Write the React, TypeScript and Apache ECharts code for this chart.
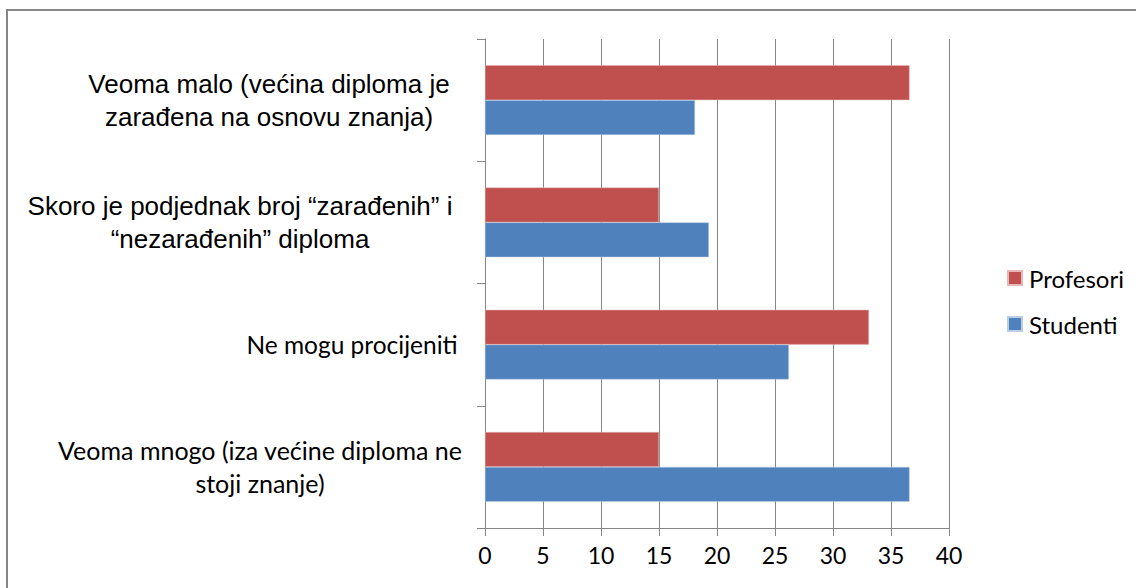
import React, { useEffect, useRef } from "react";
import * as echarts from "echarts";

const categories = [
  "Veoma malo (većina diploma je\nzarađena na osnovu znanja)",
  "Skoro je podjednak broj “zarađenih” i\n“nezarađenih” diploma",
  "Ne mogu procijeniti",
  "Veoma mnogo (iza većine diploma ne\nstoji znanje)",
];
const studenti = [18.1, 19.3, 26.2, 36.6];
const profesori = [36.6, 15.0, 33.1, 15.0];
const xTicks = { min: 0, max: 40, interval: 5 };

const labelCenters = [269, 240, 352, 260];
const labelFonts = ["Liberation Sans", "Liberation Sans", "Lato", "Lato"];
const labelSizes = [26, 26, 24.5, 25];

export default function App() {
  const ref = useRef<HTMLDivElement>(null);
  useEffect(() => {
    if (!ref.current) return;
    const chart = echarts.init(ref.current, null, { renderer: "svg" });
    const gridLeft = 485;
    const labelRight = 470;
    const rich: any = {};
    categories.forEach((_, i) => {
      rich["r" + i] = {
        width: 2 * (labelRight - labelCenters[i]),
        align: "center",
        fontFamily: labelFonts[i],
        fontSize: labelSizes[i],
        lineHeight: 33,
        color: "#000",
      };
    });
    chart.setOption({
      animation: false,
      backgroundColor: "#fff",
      graphic: [
        {
          type: "rect",
          shape: { x: 7, y: 10, width: 1300, height: 800 },
          style: { fill: "none", stroke: "#868686", lineWidth: 2 },
          silent: true,
          z: -1,
        },
      ],
      grid: { left: gridLeft, right: 1136 - 949, top: 39, bottom: 588 - 528 },
      legend: {
        orient: "vertical",
        left: 1002,
        top: 261,
        itemWidth: 14,
        itemHeight: 14,
        itemGap: 22,
        icon: "rect",
        data: ["Profesori", "Studenti"],
        textStyle: { fontFamily: "Lato", fontSize: 24, color: "#000", padding: [0, 0, 0, 2] },
      },
      xAxis: {
        type: "value",
        min: xTicks.min,
        max: xTicks.max,
        interval: xTicks.interval,
        axisLine: { show: true, lineStyle: { color: "#868686", width: 1 } },
        axisTick: { show: true, length: 8, lineStyle: { color: "#868686" } },
        splitLine: { show: true, lineStyle: { color: "#868686", width: 1 } },
        axisLabel: {
          margin: 15,
          fontFamily: "Lato",
          fontSize: 23,
          color: "#000",
        },
      },
      yAxis: {
        type: "category",
        inverse: true,
        data: categories,
        axisLine: { show: true, lineStyle: { color: "#868686", width: 1 } },
        axisTick: { show: true, length: 8, lineStyle: { color: "#868686" } },
        axisLabel: {
          margin: gridLeft - labelRight,
          align: "right",
          formatter: (v: string, i: number) =>
            v
              .split("\n")
              .map((l) => `{r${i}|${l}}`)
              .join("\n"),
          rich,
        },
      },
      series: [
        {
          name: "Profesori",
          type: "bar",
          data: profesori,
          barGap: "0%",
          barCategoryGap: "43%",
          itemStyle: { color: "#C0504D", borderColor: "#e6b9b8", borderWidth: 0.5 },
        },
        {
          name: "Studenti",
          type: "bar",
          data: studenti,
          barGap: "0%",
          barCategoryGap: "43%",
          itemStyle: { color: "#4F81BD", borderColor: "#b9cde5", borderWidth: 0.5 },
        },
      ],
    });
    return () => chart.dispose();
  }, []);
  return (
    <div
      ref={ref}
      style={{ position: "absolute", left: 0, top: 0, width: 1136, height: 588 }}
    />
  );
}
